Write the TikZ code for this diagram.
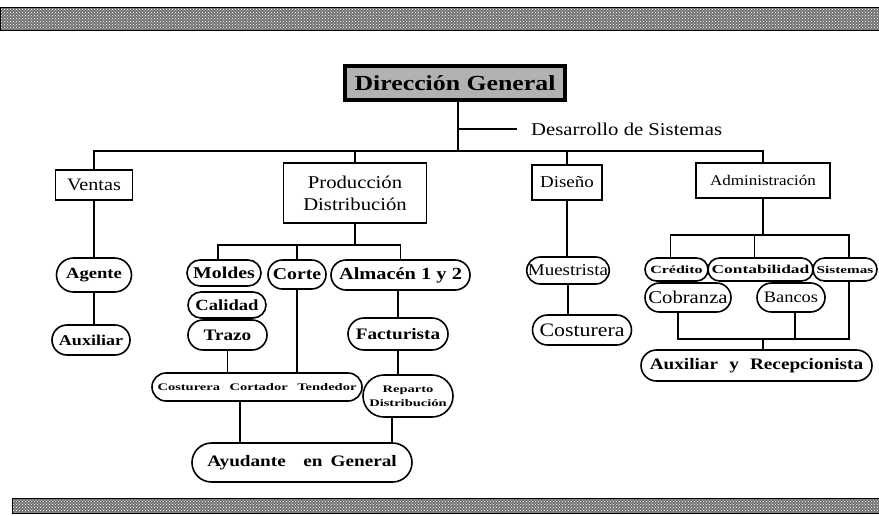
\documentclass[tikz,border=0pt]{standalone}
\usepackage{fontspec}
\setmainfont{Liberation Serif}
\newfontfamily\fwr{Liberation Serif}[FakeStretch=1.15]
\newfontfamily\fwb{Liberation Serif}[FakeStretch=1.2]
\newfontfamily\fws{Liberation Serif}[FakeStretch=1.45]
\usetikzlibrary{patterns,shapes.misc}
\newcommand\fsz[2]{\fontsize{#1}{#2}\selectfont}
\begin{document}
\begin{tikzpicture}[x=1pt,y=-1pt,
  conn/.style={line width=1.3pt},
  bx/.style 2 args={draw, line width=1.2pt, inner sep=0pt, align=center,
     minimum width=#1pt, minimum height=#2pt},
  ov/.style 2 args={draw, line width=1.6pt, rounded rectangle, inner sep=0pt,
     align=center, minimum width=#1pt, minimum height=#2pt},
  band/.style={line width=0.8pt}]
\useasboundingbox (0,0) rectangle (879,515);
% bands
\fill[black!55] (0,7) rectangle (879,30);
\fill[pattern=crosshatch dots, pattern color=white] (0,7) rectangle (879,30);
\draw[band] (0,7) rectangle (879,30);
\fill[black!55] (12,498) rectangle (879,513);
\fill[pattern=crosshatch dots, pattern color=white] (12,498) rectangle (879,513);
\draw[band] (12,498) rectangle (879,513);

% top
\node[draw, line width=4pt, fill=black!30, minimum width=220pt, minimum height=34pt,
      inner sep=0pt, font=\fwb\bfseries\fsz{21.5}{21.5}] (dg) at (455,83) {Dirección General};
\node[anchor=west, inner sep=0pt, font=\fwr\fsz{18}{18}] (des) at (531,129) {Desarrollo de Sistemas};

% level 1 boxes
\node[bx={77}{30}, font=\fwr\fsz{17.5}{17.5}] (ven) at (94,185) {Ventas};
\node[bx={143}{60}, font=\fwr\fsz{18}{22}] (prod) at (355,193) {Producción\\Distribución};
\node[bx={70}{35}, font=\fwr\fsz{16.5}{16.5}] (dis) at (567,182.5) {Diseño};
\node[bx={134}{35}, font=\fwr\fsz{14.8}{14.8}] (adm) at (763,180.5) {Administración};

% Ventas branch
\node[ov={75}{34}, font=\fwb\bfseries\fsz{15.5}{15.5}] (age) at (94,275) {Agente};
\node[ov={78}{30}, font=\fwb\bfseries\fsz{15}{15}] (aux) at (91,340) {Auxiliar};

% Produccion branch
\node[ov={74}{26}, font=\fwb\bfseries\fsz{16.5}{16.5}] (mol) at (224,273) {Moldes};
\node[ov={58}{29}, font=\fwb\bfseries\fsz{16.5}{16.5}] (cor) at (297,274.5) {Corte};
\node[ov={139}{30}, font=\fwb\bfseries\fsz{17}{17}] (alm) at (400.5,275) {Almacén 1 y 2};
\node[ov={78}{26}, font=\fwb\bfseries\fsz{15.5}{15.5}] (cal) at (227,305) {Calidad};
\node[ov={79}{30}, font=\fwb\bfseries\fsz{16}{16}] (tra) at (227.5,335) {Trazo};
\node[ov={100}{32}, font=\fwb\bfseries\fsz{16}{16}] (fac) at (398,334) {Facturista};
\node[ov={210}{28}, font=\fws\bfseries\fsz{10}{10}] (cct) at (257,387)
   {Costurera\hspace{6pt} Cortador\hspace{6pt} Tendedor};
\node[ov={90}{42}, font=\fws\bfseries\fsz{10}{14}] (rep) at (408,396)
   {Reparto\\Distribución};
\node[ov={220}{39}, font=\fwb\bfseries\fsz{16}{16}] (ayu) at (302,462.5)
   {Ayudante\hspace{0.8em} en\hspace{0.2em} General};

% Diseno branch
\node[ov={80}{27}, font=\fwr\fsz{16.5}{16.5}] (mue) at (568,270.5) {Muestrista};
\node[ov={99}{30}, font=\fwr\fsz{19}{19}] (cos) at (582,330) {Costurera};

% Administracion branch
\node[ov={63}{23}, font=\fws\bfseries\fsz{11}{11}] (cre) at (676.5,269.5) {Crédito};
\node[ov={105}{23}, font=\fws\bfseries\fsz{12}{12}] (con) at (760.5,269.5) {Contabilidad};
\node[ov={64}{23}, font=\fws\bfseries\fsz{10.5}{10.5}] (sis) at (845,269.5) {Sistemas};
\node[ov={86}{29}, font=\fwr\fsz{18}{18}] (cob) at (688,297.5) {Cobranza};
\node[ov={68}{29}, font=\fwr\fsz{16}{16}] (ban) at (791,297.5) {Bancos};
\node[ov={231}{31}, font=\fwb\bfseries\fsz{16}{16}] (ayr) at (756.5,365.5)
   {Auxiliar\hspace{0.4em} y\hspace{0.4em} Recepcionista};

% coordinates
\coordinate (bus) at (94,151);
\coordinate (dsj) at (458,129);
\coordinate (dse) at (517,129);
\coordinate (dgd) at (458,100);
\coordinate (pb) at (355,245);
\coordinate (ab) at (763,235);
\coordinate (lb) at (763,339);
\coordinate (mold) at ([xshift=-6pt]mol.north);
\coordinate (cctd) at ([xshift=-17pt]cct.south);
\coordinate (repd) at ([xshift=-16pt]rep.south);
\coordinate (cred) at ([xshift=-6pt]cre.north);
\coordinate (cond) at ([xshift=-6pt]con.north);
\coordinate (sisu) at ([xshift=4pt]sis.north);
\coordinate (sisd) at ([xshift=4pt]sis.south);
\coordinate (credb) at ([xshift=-3pt]cre.south);
\coordinate (banu) at ([xshift=-3pt]ban.north);
\coordinate (cobd) at ([xshift=-10pt]cob.south);
\coordinate (band) at ([xshift=4pt]ban.south);

% connectors
\draw[conn] (dgd) -- (dgd |- bus);
\draw[conn] (dsj) -- (dse);
\draw[conn] (ven.north) -- (bus) -| (adm.north);
\draw[conn] (prod.north) -- (prod.north |- bus);
\draw[conn] (dis.north) -- (dis.north |- bus);

\draw[conn] (ven.south) -- (age.north);
\draw[conn] (age.south) -- (age.south |- aux.north);

\draw[conn] (prod.south) -- (pb);
\draw[conn] (mold) |- (pb) -| (alm.north);
\draw[conn] (cor.north) -- (cor.north |- pb);
\draw[conn] (cor.south) -- (cor.south |- cct.north);
\draw[conn] (tra.south) -- (tra.south |- cct.north);
\draw[conn] (fac.north) -- (fac.north |- alm.south);
\draw[conn] (fac.south) -- (fac.south |- rep.north);
\draw[conn] (cctd) -- (cctd |- ayu.north);
\draw[conn] (repd) -- (repd |- ayu.north);

\draw[conn] (dis.south) -- (dis.south |- mue.north);
\draw[conn] (mue.south) -- (mue.south |- cos.north);

\draw[conn] (adm.south) -- (ab);
\draw[conn] (cred) |- (ab) -| (sisu);
\draw[conn] (cond) -- (cond |- ab);
\draw[conn] (credb) -- (credb |- cob.north);
\draw[conn] (banu) -- (banu |- con.south);
\draw[conn] (sisd) |- (lb) -| (cobd);
\draw[conn] (band) -- (band |- lb);
\draw[conn] (lb) -- (lb |- ayr.north);
\end{tikzpicture}
\end{document}
